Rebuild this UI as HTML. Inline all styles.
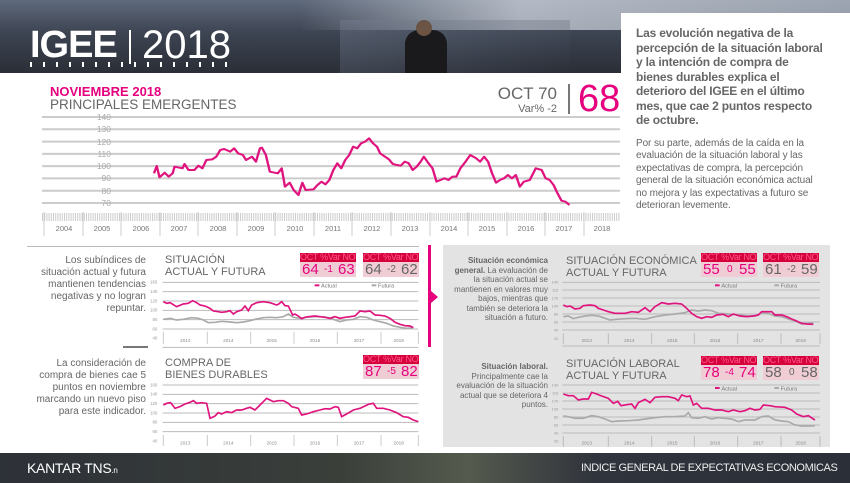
<!DOCTYPE html>
<html><head><meta charset="utf-8"><style>
body{margin:0;width:850px;height:483px;overflow:hidden;background:#fff;font-family:"Liberation Sans",sans-serif;position:relative}
.a{position:absolute}
.hdr{left:0;top:0;width:850px;height:73px;background:linear-gradient(180deg,#5f6a7c 0%,#3d4452 45%,#2a2e36 100%)}
.sky{left:300px;top:0;width:550px;height:30px;background:linear-gradient(90deg,rgba(255,255,255,0),rgba(215,220,228,.7) 40%,rgba(200,205,215,.6));}
.ftr{left:0;top:453px;width:850px;height:30px;background:linear-gradient(90deg,#2d3138,#3a3f3a 40%,#555a4e 55%,#30343c 70%,#2b2f37)}
.pk{color:#e6007e}
.g{color:#666}
.nw{white-space:nowrap}
.box{width:56px;height:24px}
.bh{height:9px;background:#d5003c;color:#ff5a8a;font-size:9px;line-height:9px;white-space:nowrap;overflow:hidden;letter-spacing:-.3px}
.bv{height:15px;background:#f0ccd4;font-size:15px;line-height:15px;position:relative}
.bv span{position:absolute;top:0}
</style></head><body>
<div class="a hdr"></div>
<div class="a sky"></div>
<div class="a" style="left:340px;top:20px;width:230px;height:53px;background:linear-gradient(160deg,rgba(120,130,150,.4),rgba(40,45,55,.2))"></div>
<div class="a" style="left:405px;top:30px;width:42px;height:43px;background:#1a1a1c;border-radius:14px 14px 0 0"></div>
<div class="a" style="left:416px;top:20px;width:16px;height:16px;background:#6b5444;border-radius:50%"></div>
<div class="a" style="left:30px;top:26px;color:#fff;font-size:38px;font-weight:bold;letter-spacing:-1px;line-height:38px">IGEE</div>
<div class="a" style="left:129px;top:30px;width:2px;height:34px;background:#fff"></div>
<div class="a" style="left:142px;top:26px;color:#fff;font-size:40px;line-height:38px;font-weight:300">2018</div>
<div class="a" style="left:30px;top:62px;width:200px;height:5px;background:repeating-linear-gradient(90deg,#fff 0 2px,transparent 2px 13px)"></div>
<div class="a" style="left:621px;top:13px;width:229px;height:440px;background:#fff"></div>
<div class="a ftr"></div>
<div class="a nw" style="left:27px;top:460px;color:#fff;font-size:14px;letter-spacing:-.3px">KANTAR TNS<span style="font-size:8px">.n</span></div>
<div class="a nw" style="left:581px;top:462px;color:#eee;font-size:11px;letter-spacing:-.4px">INDICE GENERAL DE EXPECTATIVAS ECONOMICAS</div>

<div class="a pk nw" style="left:50px;top:84px;font-size:13px;font-weight:bold">NOVIEMBRE 2018</div>
<div class="a g nw" style="left:50px;top:97px;font-size:13.5px">PRINCIPALES EMERGENTES</div>
<div class="a g" style="left:495px;top:84px;font-size:17px;width:62px;text-align:right">OCT 70</div>
<div class="a g" style="left:495px;top:103px;font-size:11px;width:62px;text-align:right">Var% -2</div>
<div class="a" style="left:568px;top:84px;width:2px;height:30px;background:#777"></div>
<div class="a pk" style="left:578px;top:77px;font-size:38px;line-height:44px">68</div>

<div class="a nw" style="left:636px;top:26px;font-size:12px;font-weight:bold;color:#666;line-height:14.5px;letter-spacing:-.2px">Las evolución negativa de la<br>percepción de la situación laboral<br>y la intención de compra de<br>bienes durables explica el<br>deterioro del IGEE en el último<br>mes, que cae 2 puntos respecto<br>de octubre.</div>
<div class="a nw" style="left:636px;top:138px;font-size:10px;color:#666;line-height:12.4px;letter-spacing:-.1px">Por su parte, además de la caída en la<br>evaluación de la situación laboral y las<br>expectativas de compra, la percepción<br>general de la situación económica actual<br>no mejora y las expectativas a futuro se<br>deterioran levemente.</div>

<div class="a" style="left:443px;top:245px;width:387px;height:202px;background:#e3e3e3"></div>
<div class="a" style="left:428px;top:245px;width:3px;height:102px;background:#e6007e"></div>
<div class="a" style="left:431px;top:291px;width:0;height:0;border-top:6px solid transparent;border-bottom:6px solid transparent;border-left:7px solid #e6007e"></div>
<div class="a" style="left:27px;top:246px;width:392px;height:1px;background:#bbb"></div>
<div class="a" style="left:123px;top:346px;width:25px;height:2px;background:#777"></div>

<div class="a g nw" style="left:0;top:255px;width:146px;text-align:right;font-size:10px;line-height:12px">Los subíndices de<br>situación actual y futura<br>mantienen tendencias<br>negativas y no logran<br>repuntar.</div>
<div class="a g nw" style="left:0;top:358px;width:146px;text-align:right;font-size:10px;line-height:12px">La consideración de<br>compra de bienes cae 5<br>puntos en noviembre<br>marcando un nuevo piso<br>para este indicador.</div>
<div class="a g nw" style="left:440px;top:256px;width:108px;text-align:right;font-size:8px;line-height:9.5px"><b>Situación económica</b><br><b>general.</b> La evaluación de<br>la situación actual se<br>mantienen en valores muy<br>bajos, mientras que<br>también se deteriora la<br>situación a futuro.</div>
<div class="a g nw" style="left:440px;top:362px;width:108px;text-align:right;font-size:8px;line-height:9.5px"><b>Situación laboral.</b><br>Principalmente cae la<br>evaluación de la situación<br>actual que se deteriora 4<br>puntos.</div>

<div class="a g nw" style="left:165px;top:254px;font-size:11px;line-height:12px">SITUACIÓN<br>ACTUAL Y FUTURA</div>
<div class="a g nw" style="left:165px;top:357px;font-size:11px;line-height:12px">COMPRA DE<br>BIENES DURABLES</div>
<div class="a g nw" style="left:566px;top:255px;font-size:11px;line-height:12px">SITUACIÓN ECONÓMICA<br>ACTUAL Y FUTURA</div>
<div class="a g nw" style="left:566px;top:358px;font-size:11px;line-height:12px">SITUACIÓN LABORAL<br>ACTUAL Y FUTURA</div>

<div class="a box" style="left:300px;top:253px"><div class="bh">OCT %Var NOV</div><div class="bv pk"><span style="left:2px">64</span><span style="left:24px;font-size:10px">-1</span><span style="left:38px">63</span></div></div>
<div class="a box" style="left:363px;top:253px"><div class="bh">OCT %Var NOV</div><div class="bv g"><span style="left:2px">64</span><span style="left:24px;font-size:10px">-2</span><span style="left:38px">62</span></div></div>
<div class="a box" style="left:363px;top:355px"><div class="bh">OCT %Var NOV</div><div class="bv pk"><span style="left:2px">87</span><span style="left:24px;font-size:10px">-5</span><span style="left:38px">82</span></div></div>
<div class="a box" style="left:701px;top:253px"><div class="bh">OCT %Var NOV</div><div class="bv pk"><span style="left:2px">55</span><span style="left:26px;font-size:10px">0</span><span style="left:38px">55</span></div></div>
<div class="a box" style="left:763px;top:253px"><div class="bh">OCT %Var NOV</div><div class="bv g"><span style="left:2px">61</span><span style="left:24px;font-size:10px">-2</span><span style="left:38px">59</span></div></div>
<div class="a box" style="left:701px;top:356px"><div class="bh">OCT %Var NOV</div><div class="bv pk"><span style="left:2px">78</span><span style="left:24px;font-size:10px">-4</span><span style="left:38px">74</span></div></div>
<div class="a box" style="left:763px;top:356px"><div class="bh">OCT %Var NOV</div><div class="bv g"><span style="left:2px">58</span><span style="left:26px;font-size:10px">0</span><span style="left:38px">58</span></div></div>

<svg class="a" style="left:0;top:0" width="850" height="483" font-family="Liberation Sans, sans-serif">
<g stroke="#ccc" stroke-width="2">
<line x1="42" x2="620" y1="117" y2="117"/><line x1="42" x2="620" y1="129.3" y2="129.3"/><line x1="42" x2="620" y1="141.6" y2="141.6"/><line x1="42" x2="620" y1="153.9" y2="153.9"/><line x1="42" x2="620" y1="166.1" y2="166.1"/><line x1="42" x2="620" y1="178.4" y2="178.4"/><line x1="42" x2="620" y1="190.7" y2="190.7"/><line x1="42" x2="620" y1="203" y2="203"/>
</g>
<g fill="#aaa" font-size="8.5" text-anchor="end">
<text x="111" y="120">140</text><text x="111" y="132">130</text><text x="111" y="145">120</text><text x="111" y="157">110</text><text x="111" y="169">100</text><text x="111" y="181">90</text><text x="111" y="194">80</text><text x="111" y="206">70</text>
</g>
<line x1="42" x2="620" y1="217" y2="217" stroke="#ccc" stroke-width="8" stroke-dasharray="1 1.2"/>
<g stroke="#ccc" stroke-width="1">
<line x1="44" x2="44" y1="212" y2="236"/><line x1="83" x2="83" y1="212" y2="236"/><line x1="121" x2="121" y1="212" y2="236"/><line x1="160" x2="160" y1="212" y2="236"/><line x1="198" x2="198" y1="212" y2="236"/><line x1="237" x2="237" y1="212" y2="236"/><line x1="275" x2="275" y1="212" y2="236"/><line x1="314" x2="314" y1="212" y2="236"/><line x1="352" x2="352" y1="212" y2="236"/><line x1="391" x2="391" y1="212" y2="236"/><line x1="430" x2="430" y1="212" y2="236"/><line x1="468" x2="468" y1="212" y2="236"/><line x1="507" x2="507" y1="212" y2="236"/><line x1="545" x2="545" y1="212" y2="236"/><line x1="584" x2="584" y1="212" y2="236"/>
</g>
<g fill="#777" font-size="7.5" text-anchor="middle">
<text x="64" y="231">2004</text><text x="102" y="231">2005</text><text x="141" y="231">2006</text><text x="179" y="231">2007</text><text x="218" y="231">2008</text><text x="256" y="231">2009</text><text x="295" y="231">2010</text><text x="333" y="231">2011</text><text x="372" y="231">2012</text><text x="410" y="231">2013</text><text x="449" y="231">2014</text><text x="487" y="231">2015</text><text x="526" y="231">2016</text><text x="564" y="231">2017</text><text x="602" y="231">2018</text>
</g>
<g transform="scale(0.39683,0.33333)">
<polyline fill="none" stroke="#e0147e" stroke-width="6" stroke-linejoin="round" points="388,520 395,498 402,532 415,518 425,530 435,520 440,500 460,505 465,492 475,510 490,510 500,497 510,505 520,480 535,478 545,470 555,450 565,447 580,455 590,445 600,460 612,465 620,480 635,470 645,485 655,445 660,443 670,465 680,515 700,520 710,505 718,560 730,548 740,570 752,585 762,548 770,570 790,568 800,555 810,545 820,553 830,540 840,510 850,490 860,505 870,480 880,465 890,440 900,445 910,430 920,425 930,415 940,430 950,440 958,460 970,470 980,478 990,492 1000,495 1010,497 1020,485 1030,490 1040,510 1050,500 1060,485 1068,470 1080,490 1090,505 1100,545 1110,540 1120,535 1130,540 1140,530 1150,530 1160,505 1170,490 1185,465 1200,475 1210,485 1220,470 1230,485 1240,520 1250,548 1260,540 1270,535 1280,525 1290,535 1300,525 1310,560 1320,545 1335,540 1350,505 1365,510 1375,535 1385,540 1395,555 1405,580 1415,602 1425,605 1435,615"/>
</g>

<g transform="translate(0,240) scale(0.33333)">
<g stroke="#bbb" stroke-width="3">
<line x1="488" x2="1255" y1="127" y2="127"/><line x1="488" x2="1255" y1="155" y2="155"/><line x1="488" x2="1255" y1="183" y2="183"/><line x1="488" x2="1255" y1="211" y2="211"/><line x1="488" x2="1255" y1="239" y2="239"/><line x1="488" x2="1255" y1="267" y2="267"/><line x1="488" x2="1255" y1="322" y2="322"/>
<line x1="488" x2="1255" y1="435" y2="435"/><line x1="488" x2="1255" y1="463" y2="463"/><line x1="488" x2="1255" y1="491" y2="491"/><line x1="488" x2="1255" y1="519" y2="519"/><line x1="488" x2="1255" y1="547" y2="547"/><line x1="488" x2="1255" y1="575" y2="575"/>
</g>
<g stroke="#ccc" stroke-width="3">
<line x1="490" x2="490" y1="275" y2="312"/><line x1="622" x2="622" y1="275" y2="312"/><line x1="752" x2="752" y1="275" y2="312"/><line x1="882" x2="882" y1="275" y2="312"/><line x1="1012" x2="1012" y1="275" y2="312"/><line x1="1143" x2="1143" y1="275" y2="312"/><line x1="1255" x2="1255" y1="275" y2="312"/>
<line x1="490" x2="490" y1="585" y2="618"/><line x1="622" x2="622" y1="585" y2="618"/><line x1="752" x2="752" y1="585" y2="618"/><line x1="882" x2="882" y1="585" y2="618"/><line x1="1012" x2="1012" y1="585" y2="618"/><line x1="1143" x2="1143" y1="585" y2="618"/><line x1="1255" x2="1255" y1="585" y2="618"/>
</g>
<g fill="#888" font-size="14" text-anchor="middle">
<text x="556" y="306">2013</text><text x="685" y="306">2014</text><text x="815" y="306">2015</text><text x="945" y="306">2016</text><text x="1077" y="306">2017</text><text x="1196" y="306">2018</text>
<text x="556" y="614">2013</text><text x="685" y="614">2014</text><text x="815" y="614">2015</text><text x="945" y="614">2016</text><text x="1077" y="614">2017</text><text x="1196" y="614">2018</text>
</g>
<g fill="#999" font-size="13" text-anchor="end">
<text x="472" y="131">160</text><text x="472" y="159">140</text><text x="472" y="187">120</text><text x="472" y="215">100</text><text x="472" y="243">80</text><text x="472" y="271">60</text><text x="472" y="299">40</text>
<text x="472" y="439">160</text><text x="472" y="467">140</text><text x="472" y="495">120</text><text x="472" y="523">100</text><text x="472" y="551">80</text><text x="472" y="579">60</text><text x="472" y="607">40</text>
</g>
<rect x="944" y="133" width="14" height="6" fill="#e0147e"/><text x="963" y="143" font-size="17" fill="#777">Actual</text>
<rect x="1115" y="133" width="14" height="6" fill="#aaa"/><text x="1134" y="143" font-size="17" fill="#777">Futura</text>
<polyline fill="none" stroke="#aaa" stroke-width="5" points="490,238 510,235 530,240 550,238 575,233 595,235 610,240 625,248 645,247 665,244 690,246 710,248 730,246 750,242 770,237 790,233 810,232 830,233 850,230 865,222 880,232 900,235 920,232 940,230 960,230 980,232 1000,238 1020,245 1040,240 1060,238 1080,230 1100,232 1120,240 1140,245 1160,250 1180,258 1200,262 1220,265 1240,263"/>
<polyline fill="none" stroke="#e0147e" stroke-width="5" points="490,185 500,190 510,188 530,200 550,192 565,190 578,182 590,188 600,195 615,198 630,205 640,213 655,215 665,217 680,215 690,212 700,222 710,215 725,210 735,198 745,212 755,195 770,188 790,185 810,188 830,195 835,193 845,185 855,197 865,198 878,225 885,222 895,228 905,236 915,232 925,230 945,228 960,230 975,232 990,235 1005,230 1020,235 1035,232 1050,230 1065,228 1080,213 1095,215 1110,213 1125,225 1140,226 1155,228 1170,235 1185,247 1200,253 1215,257 1230,258 1240,263"/>
<polyline fill="none" stroke="#e0147e" stroke-width="5" points="490,495 500,490 512,488 525,505 540,500 555,492 570,487 580,482 590,490 605,488 620,490 630,535 645,528 655,518 665,522 680,515 695,518 710,510 725,510 740,505 750,502 765,510 780,495 800,475 810,480 820,485 835,482 850,482 865,490 875,500 895,505 905,525 920,522 940,515 960,510 975,506 990,507 1005,500 1015,502 1025,530 1040,522 1060,510 1080,505 1095,498 1105,493 1120,490 1130,505 1150,505 1170,510 1190,518 1210,530 1225,532 1240,540 1255,545"/>
</g>

<g transform="translate(425,240) scale(0.33333)">
<g stroke="#bbb" stroke-width="3">
<line x1="412" x2="1185" y1="127" y2="127"/><line x1="412" x2="1185" y1="150" y2="150"/><line x1="412" x2="1185" y1="174" y2="174"/><line x1="412" x2="1185" y1="198" y2="198"/><line x1="412" x2="1185" y1="222" y2="222"/><line x1="412" x2="1185" y1="246" y2="246"/><line x1="412" x2="1185" y1="270" y2="270"/><line x1="412" x2="1185" y1="318" y2="318"/>
<line x1="412" x2="1185" y1="435" y2="435"/><line x1="412" x2="1185" y1="459" y2="459"/><line x1="412" x2="1185" y1="483" y2="483"/><line x1="412" x2="1185" y1="507" y2="507"/><line x1="412" x2="1185" y1="531" y2="531"/><line x1="412" x2="1185" y1="555" y2="555"/><line x1="412" x2="1185" y1="579" y2="579"/>
</g>
<g stroke="#bbb" stroke-width="3">
<line x1="415" x2="415" y1="280" y2="312"/><line x1="550" x2="550" y1="280" y2="312"/><line x1="680" x2="680" y1="280" y2="312"/><line x1="808" x2="808" y1="280" y2="312"/><line x1="938" x2="938" y1="280" y2="312"/><line x1="1068" x2="1068" y1="280" y2="312"/><line x1="1185" x2="1185" y1="280" y2="312"/>
<line x1="415" x2="415" y1="588" y2="620"/><line x1="550" x2="550" y1="588" y2="620"/><line x1="680" x2="680" y1="588" y2="620"/><line x1="808" x2="808" y1="588" y2="620"/><line x1="938" x2="938" y1="588" y2="620"/><line x1="1068" x2="1068" y1="588" y2="620"/><line x1="1185" x2="1185" y1="588" y2="620"/>
</g>
<g fill="#888" font-size="14" text-anchor="middle">
<text x="485" y="306">2013</text><text x="613" y="306">2014</text><text x="742" y="306">2015</text><text x="870" y="306">2016</text><text x="1000" y="306">2017</text><text x="1127" y="306">2018</text>
<text x="485" y="614">2013</text><text x="613" y="614">2014</text><text x="742" y="614">2015</text><text x="870" y="614">2016</text><text x="1000" y="614">2017</text><text x="1127" y="614">2018</text>
</g>
<g fill="#999" font-size="12" text-anchor="end">
<text x="400" y="131">140</text><text x="400" y="154">110</text><text x="400" y="178">170</text><text x="400" y="202">100</text><text x="400" y="226">80</text><text x="400" y="250">60</text><text x="400" y="274">40</text><text x="400" y="300">20</text>
<text x="400" y="439">140</text><text x="400" y="463">110</text><text x="400" y="487">170</text><text x="400" y="511">100</text><text x="400" y="535">80</text><text x="400" y="559">60</text><text x="400" y="583">40</text><text x="400" y="607">20</text>
</g>
<rect x="870" y="133" width="14" height="6" fill="#e0147e"/><text x="889" y="143" font-size="17" fill="#777">Actual</text>
<rect x="1048" y="133" width="14" height="6" fill="#aaa"/><text x="1067" y="143" font-size="17" fill="#777">Futura</text>
<rect x="870" y="441" width="14" height="6" fill="#e0147e"/><text x="889" y="451" font-size="17" fill="#777">Actual</text>
<rect x="1048" y="441" width="14" height="6" fill="#aaa"/><text x="1067" y="451" font-size="17" fill="#777">Futura</text>
<polyline fill="none" stroke="#aaa" stroke-width="5" points="415,230 430,228 445,236 460,232 480,228 500,226 520,228 540,235 555,240 575,238 600,236 630,235 660,238 690,230 720,225 750,222 780,218 800,210 820,213 840,210 860,212 880,220 910,222 940,225 970,228 990,228 1000,225 1010,218 1030,220 1050,228 1070,230 1090,237 1110,243 1130,252 1150,250 1165,248"/>
<polyline fill="none" stroke="#e0147e" stroke-width="5" points="415,195 425,200 435,198 450,207 465,205 475,197 495,195 510,197 520,205 535,210 550,215 570,220 600,220 620,215 640,217 660,203 675,215 690,200 710,188 730,192 750,190 770,192 785,205 800,220 815,230 830,235 845,230 860,232 875,225 895,223 910,230 925,222 945,228 965,230 985,228 1000,225 1010,215 1040,215 1050,225 1070,225 1085,230 1100,237 1115,243 1130,250 1145,252 1165,253"/>
<polyline fill="none" stroke="#aaa" stroke-width="5" points="415,528 430,530 450,535 475,535 500,527 520,530 540,537 560,545 580,543 610,542 640,540 660,537 690,533 720,530 750,530 780,528 790,518 800,533 820,535 840,530 860,537 880,533 900,535 920,537 940,545 960,540 990,540 1010,530 1030,528 1050,540 1070,543 1090,545 1110,555 1130,558 1150,558 1170,557"/>
<polyline fill="none" stroke="#e0147e" stroke-width="5" points="415,462 430,467 445,467 460,480 475,477 490,477 500,457 515,462 530,468 550,475 565,490 578,484 588,497 605,494 620,492 630,505 640,488 660,478 675,488 690,472 710,470 730,470 750,475 760,482 770,465 785,470 795,468 805,495 815,490 830,505 850,505 870,510 890,510 910,515 925,510 945,515 960,512 975,505 990,510 1005,508 1015,495 1035,497 1050,500 1080,502 1100,510 1115,522 1135,530 1150,527 1165,537 1170,540"/>
</g>
</svg>
</body></html>
